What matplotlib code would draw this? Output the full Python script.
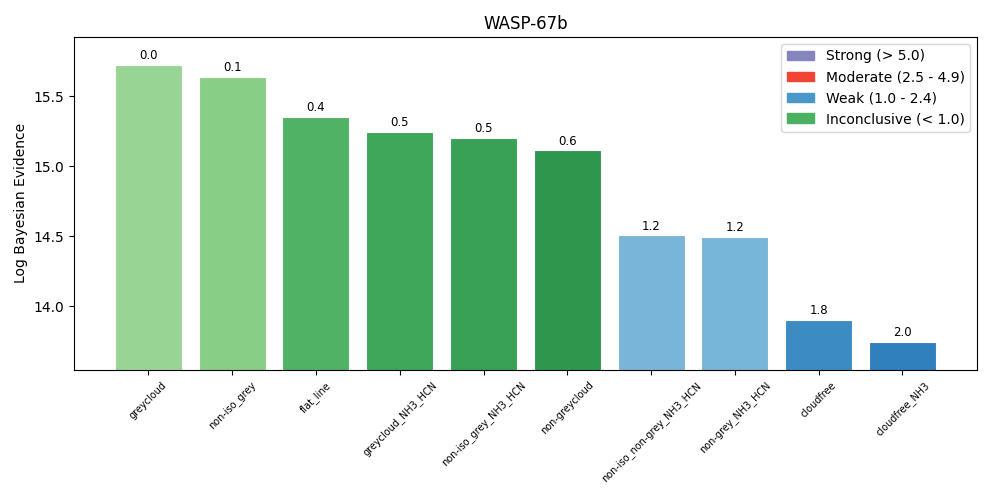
import matplotlib
matplotlib.use("Agg")
import matplotlib.pyplot as plt
from matplotlib.patches import Patch
import numpy as np

models = ["greycloud", "non-iso_grey", "flat_line", "greycloud_NH3_HCN",
          "non-iso_grey_NH3_HCN", "non-greycloud", "non-iso_non-grey_NH3_HCN",
          "non-grey_NH3_HCN", "cloudfree", "cloudfree_NH3"]
log_evidence = [15.724, 15.636, 15.350, 15.243, 15.203, 15.114, 14.507, 14.493, 13.902, 13.745]

legend_labels = ["Strong (> 5.0)", "Moderate (2.5 - 4.9)", "Weak (1.0 - 2.4)", "Inconclusive (< 1.0)"]

ev = np.array(log_evidence)
diff = ev.max() - ev

def color_for(d):
    if d < 1.0:
        return plt.cm.Greens(0.4 + 0.5 * d)
    elif d < 2.5:
        return plt.cm.Blues(0.4 + 0.3 * (d - 1.0))
    elif d < 5.0:
        return plt.cm.Reds(0.5 + 0.1 * (d - 2.5))
    else:
        return plt.cm.Purples(0.6)

colors = [color_for(d) for d in diff]

fig = plt.figure(figsize=(9.97, 4.98), dpi=100)
ax = fig.add_axes([0.074, 0.257, 0.906, 0.669])
x = np.arange(len(models))
bars = ax.bar(x, ev, width=0.8, color=colors, edgecolor="white", linewidth=0.8)
for b, d in zip(bars, diff):
    ax.annotate(f"{d:.1f}", (b.get_x() + b.get_width() / 2, b.get_height()),
                xytext=(0, 2), textcoords="offset points", ha="center", va="bottom", fontsize=8.5)
ax.set_ylim(ev.min() - 0.2, ev.max() + 0.2)
ax.set_xticks(x)
ax.set_xticklabels(models, rotation=45, fontsize=7)
ax.set_ylabel("Log Bayesian Evidence")
ax.set_title("WASP-67b")
handles = [Patch(color=plt.cm.Purples(0.6)), Patch(color=plt.cm.Reds(0.6)),
           Patch(color=plt.cm.Blues(0.6)), Patch(color=plt.cm.Greens(0.6))]
ax.legend(handles, legend_labels, loc="upper right")
fig.savefig("out.png", dpi=100)
